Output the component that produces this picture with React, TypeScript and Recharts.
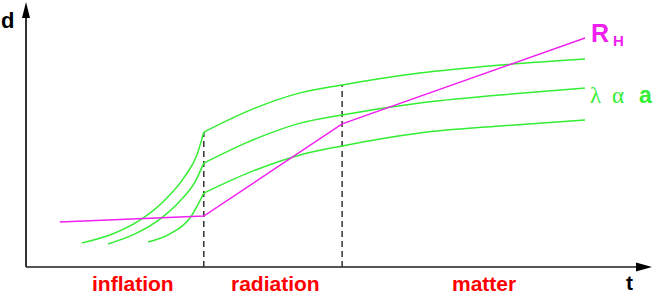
import React from "react";
import { LineChart, Line, XAxis, YAxis, ReferenceLine, ReferenceDot } from "recharts";

// horizon radius R_H (piecewise straight)
const horizon = [
  { t: 5.4, d: 17.0 },
  { t: 28.4, d: 19.2 },
  { t: 50.5, d: 54.0 },
  { t: 89.3, d: 86.4 },
];

// three comoving wavelengths, inflation branch + later branch
const wave1Inf = [
  { t: 8.9, d: 9.1 }, { t: 13.4, d: 12.1 }, { t: 18.2, d: 17.7 }, { t: 22.2, d: 25.3 },
  { t: 25.4, d: 34.3 }, { t: 27.3, d: 42.3 }, { t: 28.4, d: 50.9 },
];
const wave1Post = [
  { t: 28.4, d: 50.9 }, { t: 35.8, d: 59.2 }, { t: 43.8, d: 65.7 }, { t: 50.5, d: 68.7 },
  { t: 62.9, d: 73.2 }, { t: 75.7, d: 76.2 }, { t: 89.3, d: 78.5 },
];
const wave2Inf = [
  { t: 13.1, d: 8.7 }, { t: 17.4, d: 12.5 }, { t: 21.4, d: 18.1 }, { t: 24.6, d: 24.9 },
  { t: 27.0, d: 32.1 }, { t: 28.4, d: 39.2 },
];
const wave2Post = [
  { t: 28.4, d: 39.2 }, { t: 35.8, d: 47.5 }, { t: 43.8, d: 54.3 }, { t: 50.5, d: 57.4 },
  { t: 62.9, d: 61.9 }, { t: 75.7, d: 64.9 }, { t: 89.3, d: 67.5 },
];
const wave3Inf = [
  { t: 19.5, d: 9.4 }, { t: 23.0, d: 12.5 }, { t: 26.2, d: 18.5 }, { t: 28.4, d: 27.9 },
];
const wave3Post = [
  { t: 28.4, d: 27.9 }, { t: 35.8, d: 35.8 }, { t: 43.8, d: 42.3 }, { t: 50.5, d: 45.7 },
  { t: 62.9, d: 50.6 }, { t: 75.7, d: 53.2 }, { t: 89.3, d: 55.5 },
];

// era boundaries (t, top of dashed line)
const eras = [
  { t: 28.4, top: 50.9 },
  { t: 50.5, top: 68.7 },
];

const GREEN = "#33ee33";
const MAGENTA = "#f020f0";
const FONT = "'Liberation Sans', Arial, Helvetica, sans-serif";

const greenSeries = [wave1Inf, wave1Post, wave2Inf, wave2Post, wave3Inf, wave3Post];

const ArrowRight = (p: any) => (
  <polygon points={`${p.cx},${p.cy} ${p.cx - 16},${p.cy - 4.5} ${p.cx - 16},${p.cy + 4.5}`} fill="#000" />
);
const ArrowUp = (p: any) => (
  <polygon points={`${p.cx},${p.cy} ${p.cx - 4},${p.cy + 16} ${p.cx + 4},${p.cy + 16}`} fill="#000" />
);

export default function App() {
  return (
    <div style={{ position: "absolute", left: 0, top: 0, width: 654, height: 295, background: "#fff" }}>
      <LineChart width={654} height={295} margin={{ top: 2, right: 2, left: 26, bottom: 28 }}>
        <XAxis type="number" dataKey="t" domain={[0, 100]} allowDataOverflow hide />
        <YAxis type="number" dataKey="d" domain={[0, 100]} allowDataOverflow hide />
        {/* axes */}
        <ReferenceLine
          segment={[{ x: 0, y: 0 }, { x: 98, y: 0 }]}
          stroke="#555"
          strokeWidth={2}
          ifOverflow="visible"
        />
        <ReferenceLine
          segment={[{ x: 0, y: 0 }, { x: 0, y: 96 }]}
          stroke="#333"
          strokeWidth={2}
          ifOverflow="visible"
        />
        {eras.map((e) => (
          <ReferenceLine
            key={e.t}
            segment={[{ x: e.t, y: 0 }, { x: e.t, y: e.top }]}
            stroke="#333"
            strokeWidth={1.5}
            strokeDasharray="6 4"
          />
        ))}
        {greenSeries.map((s, i) => (
          <Line
            key={i}
            data={s}
            dataKey="d"
            type="monotone"
            stroke={GREEN}
            strokeWidth={1.5}
            dot={false}
            isAnimationActive={false}
          />
        ))}
        <Line
          data={horizon}
          dataKey="d"
          type="linear"
          stroke={MAGENTA}
          strokeWidth={1.5}
          dot={false}
          isAnimationActive={false}
        />
        <ReferenceDot x={100} y={0} shape={ArrowRight} ifOverflow="visible" />
        <ReferenceDot x={0} y={100} shape={ArrowUp} ifOverflow="visible" />
      </LineChart>
      <svg width={654} height={295} style={{ position: "absolute", left: 0, top: 0, pointerEvents: "none" }}>
        <g fontFamily={FONT} fontWeight="bold">
          <text x={1} y={28} fontSize={22} fill="#000">d</text>
          <text x={626} y={290} fontSize={21} fill="#000">t</text>
          <text x={92} y={291} fontSize={21} fill="#ff0000">inflation</text>
          <text x={231} y={291} fontSize={21} fill="#ff0000">radiation</text>
          <text x={452} y={291} fontSize={21} fill="#ff0000">matter</text>
          <text x={591} y={42} fontSize={25} fill={MAGENTA}>R</text>
          <text x={613} y={46} fontSize={15} fill={MAGENTA}>H</text>
        </g>
        <text y={103} fontSize={23} fill={GREEN}>
          <tspan x={590} fontFamily="'Liberation Serif', 'DejaVu Serif', serif">λ</tspan>
          <tspan x={612} fontFamily="'Liberation Serif', 'DejaVu Serif', serif">α</tspan>
          <tspan x={639} fontFamily={FONT} fontWeight="bold">a</tspan>
        </text>
      </svg>
    </div>
  );
}
